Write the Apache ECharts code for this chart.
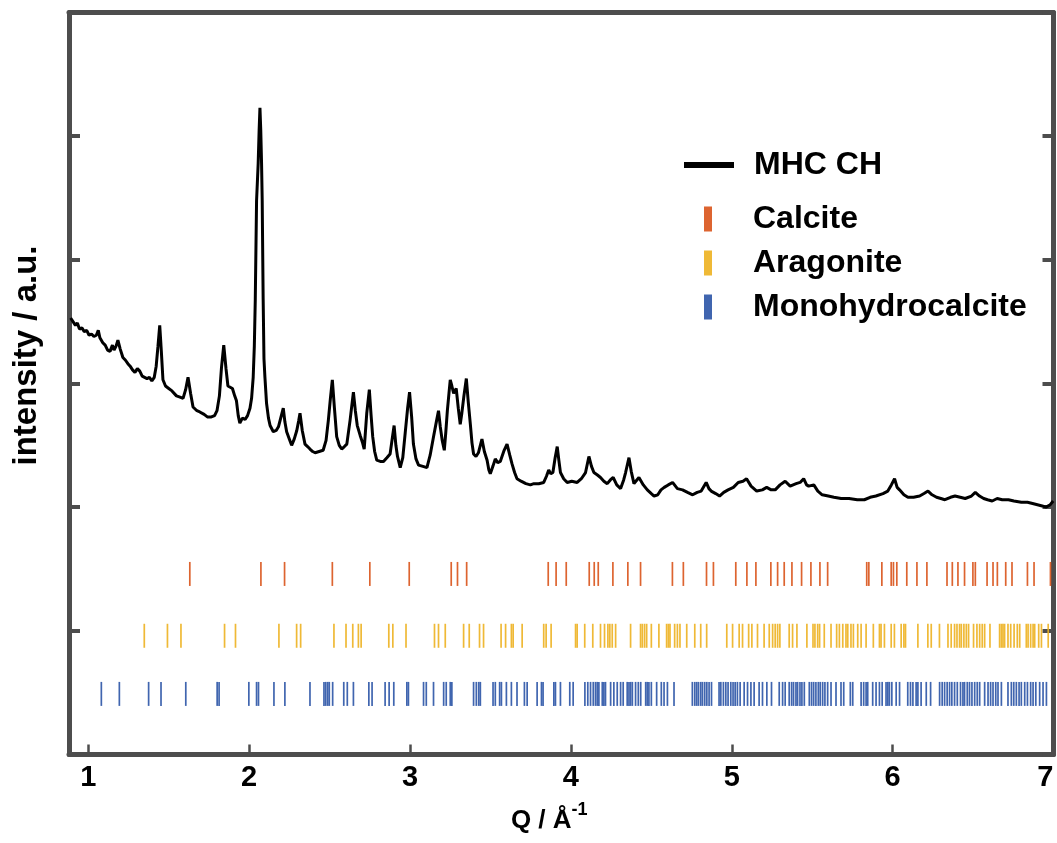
<!DOCTYPE html>
<html><head><meta charset="utf-8">
<script src="https://cdn.jsdelivr.net/npm/echarts@6/dist/echarts.min.js"></script>
<style>html,body{margin:0;padding:0;background:#fff}#c{width:1057px;height:843px}</style>
</head><body><div id="c"></div>
<script>
const xTicks = [1, 2, 3, 4, 5, 6, 7];
const yTicks = [0, 1, 2, 3, 4, 5, 6];

const mhcCurve = [
[0.89,3.53],[0.905,3.50],[0.92,3.47],[0.932,3.49],[0.945,3.44],[0.96,3.45],[0.975,3.42],[0.99,3.43],[1.005,3.39],[1.02,3.40],[1.035,3.38],[1.05,3.39],[1.062,3.43],[1.072,3.37],[1.09,3.33],[1.105,3.31],[1.12,3.27],[1.135,3.26],[1.15,3.31],[1.16,3.27],[1.172,3.30],[1.184,3.35],[1.198,3.28],[1.215,3.21],[1.23,3.19],[1.246,3.16],[1.26,3.14],[1.275,3.11],[1.29,3.09],[1.305,3.12],[1.32,3.10],[1.335,3.06],[1.35,3.05],[1.365,3.04],[1.38,3.05],[1.395,3.02],[1.41,3.05],[1.422,3.14],[1.433,3.30],[1.444,3.47],[1.454,3.26],[1.464,3.03],[1.48,2.98],[1.50,2.96],[1.52,2.94],[1.548,2.90],[1.57,2.89],[1.589,2.88],[1.605,2.95],[1.62,3.05],[1.636,2.92],[1.651,2.81],[1.675,2.78],[1.693,2.77],[1.72,2.75],[1.74,2.73],[1.765,2.73],[1.785,2.74],[1.80,2.78],[1.815,2.90],[1.828,3.13],[1.842,3.31],[1.856,3.12],[1.868,2.98],[1.882,2.97],[1.896,2.96],[1.91,2.90],[1.921,2.86],[1.932,2.74],[1.942,2.68],[1.958,2.72],[1.975,2.71],[1.99,2.74],[2.005,2.80],[2.015,2.88],[2.025,3.05],[2.032,3.30],[2.038,3.68],[2.046,4.48],[2.056,4.78],[2.062,5.05],[2.067,5.23],[2.072,5.05],[2.077,4.78],[2.081,4.48],[2.087,3.68],[2.092,3.20],[2.098,3.05],[2.108,2.84],[2.12,2.72],[2.13,2.66],[2.15,2.61],[2.168,2.62],[2.182,2.65],[2.198,2.73],[2.212,2.80],[2.222,2.69],[2.233,2.61],[2.25,2.55],[2.264,2.50],[2.28,2.55],[2.296,2.62],[2.308,2.70],[2.316,2.76],[2.33,2.62],[2.347,2.51],[2.363,2.49],[2.378,2.47],[2.395,2.45],[2.41,2.44],[2.435,2.45],[2.46,2.46],[2.478,2.54],[2.492,2.70],[2.505,2.88],[2.517,3.03],[2.53,2.80],[2.544,2.57],[2.56,2.50],[2.575,2.47],[2.592,2.49],[2.607,2.51],[2.627,2.70],[2.648,2.93],[2.66,2.78],[2.672,2.66],[2.69,2.58],[2.705,2.52],[2.715,2.47],[2.731,2.76],[2.747,2.95],[2.758,2.74],[2.768,2.57],[2.78,2.45],[2.793,2.38],[2.815,2.37],[2.835,2.37],[2.856,2.40],[2.876,2.43],[2.89,2.56],[2.901,2.66],[2.912,2.50],[2.922,2.41],[2.939,2.32],[2.955,2.40],[2.97,2.60],[2.985,2.80],[2.997,2.93],[3.01,2.73],[3.021,2.51],[3.037,2.39],[3.053,2.34],[3.08,2.33],[3.105,2.32],[3.125,2.42],[3.146,2.57],[3.165,2.70],[3.177,2.78],[3.188,2.65],[3.20,2.54],[3.213,2.46],[3.222,2.60],[3.232,2.78],[3.242,2.92],[3.25,3.03],[3.26,2.98],[3.271,2.92],[3.287,2.96],[3.30,2.80],[3.312,2.67],[3.322,2.76],[3.335,2.90],[3.35,3.04],[3.362,2.85],[3.375,2.67],[3.385,2.52],[3.395,2.43],[3.41,2.41],[3.425,2.44],[3.437,2.50],[3.447,2.55],[3.462,2.45],[3.479,2.38],[3.49,2.30],[3.499,2.27],[3.515,2.33],[3.53,2.39],[3.545,2.36],[3.561,2.37],[3.585,2.46],[3.603,2.51],[3.62,2.42],[3.634,2.35],[3.65,2.28],[3.665,2.23],[3.69,2.21],[3.72,2.19],[3.748,2.18],[3.77,2.19],[3.80,2.19],[3.831,2.20],[3.848,2.25],[3.862,2.30],[3.875,2.27],[3.888,2.28],[3.902,2.40],[3.915,2.49],[3.925,2.38],[3.935,2.28],[3.955,2.23],[3.977,2.20],[4.005,2.21],[4.039,2.20],[4.065,2.23],[4.091,2.28],[4.112,2.41],[4.128,2.33],[4.143,2.28],[4.165,2.26],[4.184,2.24],[4.205,2.21],[4.226,2.19],[4.245,2.22],[4.263,2.24],[4.285,2.18],[4.309,2.15],[4.328,2.22],[4.34,2.28],[4.361,2.40],[4.375,2.29],[4.392,2.19],[4.41,2.22],[4.423,2.24],[4.45,2.18],[4.475,2.14],[4.50,2.11],[4.517,2.09],[4.54,2.10],[4.56,2.14],[4.58,2.16],[4.605,2.18],[4.632,2.20],[4.662,2.15],[4.694,2.14],[4.725,2.12],[4.757,2.10],[4.785,2.12],[4.81,2.13],[4.841,2.20],[4.858,2.15],[4.872,2.13],[4.9,2.11],[4.924,2.09],[4.95,2.12],[4.977,2.14],[5.01,2.16],[5.04,2.20],[5.07,2.21],[5.092,2.23],[5.12,2.17],[5.155,2.13],[5.19,2.14],[5.217,2.16],[5.245,2.14],[5.27,2.14],[5.30,2.18],[5.332,2.21],[5.363,2.17],[5.40,2.19],[5.425,2.20],[5.447,2.23],[5.465,2.18],[5.478,2.17],[5.51,2.18],[5.535,2.13],[5.562,2.10],[5.60,2.09],[5.635,2.08],[5.68,2.07],[5.729,2.07],[5.78,2.06],[5.824,2.06],[5.86,2.08],[5.896,2.09],[5.94,2.11],[5.97,2.13],[5.992,2.18],[6.012,2.23],[6.028,2.16],[6.043,2.14],[6.07,2.10],[6.095,2.08],[6.13,2.08],[6.168,2.09],[6.195,2.11],[6.22,2.13],[6.245,2.10],[6.273,2.08],[6.30,2.07],[6.325,2.06],[6.36,2.08],[6.388,2.09],[6.42,2.08],[6.451,2.07],[6.49,2.09],[6.514,2.12],[6.54,2.09],[6.566,2.07],[6.59,2.06],[6.619,2.05],[6.65,2.07],[6.681,2.06],[6.72,2.06],[6.754,2.05],[6.80,2.04],[6.838,2.04],[6.87,2.03],[6.9,2.02],[6.93,2.01],[6.953,2.00],[6.98,2.02],[6.998,2.05]
];

const calcitePeaks = [1.631,2.073,2.220,2.517,2.750,2.995,3.256,3.295,3.352,3.859,3.908,3.971,4.114,4.145,4.170,4.261,4.354,4.433,4.631,4.699,4.843,4.886,5.025,5.094,5.150,5.243,5.285,5.326,5.374,5.434,5.492,5.548,5.596,5.839,5.852,5.933,5.991,6.005,6.026,6.088,6.151,6.213,6.338,6.371,6.406,6.447,6.499,6.514,6.587,6.624,6.651,6.703,6.742,6.838,6.879,6.981];

const aragonitePeaks = [1.348,1.492,1.576,1.847,1.915,2.185,2.295,2.320,2.527,2.602,2.644,2.679,2.696,2.868,2.893,2.975,3.152,3.177,3.219,3.333,3.368,3.432,3.457,3.566,3.594,3.630,3.641,3.697,3.831,3.846,3.877,4.029,4.039,4.086,4.136,4.184,4.209,4.230,4.242,4.257,4.278,4.371,4.433,4.444,4.458,4.471,4.500,4.547,4.595,4.606,4.616,4.645,4.662,4.678,4.720,4.770,4.807,4.844,4.969,5.005,5.046,5.067,5.105,5.125,5.160,5.201,5.233,5.254,5.270,5.285,5.299,5.357,5.378,5.405,5.467,5.505,5.517,5.534,5.546,5.575,5.617,5.652,5.669,5.690,5.710,5.721,5.741,5.756,5.783,5.804,5.835,5.880,5.918,5.928,5.949,5.991,6.011,6.053,6.070,6.080,6.157,6.219,6.240,6.291,6.344,6.364,6.385,6.400,6.416,6.427,6.443,6.458,6.472,6.503,6.524,6.541,6.557,6.572,6.605,6.665,6.676,6.686,6.696,6.717,6.734,6.755,6.775,6.790,6.831,6.842,6.858,6.873,6.883,6.908,6.925,6.967];

const monohydrocalcitePeaks = [1.081,1.193,1.375,1.452,1.606,1.801,1.813,1.998,2.046,2.058,2.154,2.222,2.378,2.465,2.476,2.488,2.498,2.519,2.588,2.610,2.648,2.744,2.764,2.845,2.870,2.899,2.980,2.990,3.084,3.101,3.146,3.209,3.225,3.250,3.260,3.395,3.412,3.427,3.437,3.516,3.530,3.557,3.568,3.599,3.630,3.665,3.711,3.728,3.790,3.817,3.827,3.894,3.904,3.935,3.993,4.014,4.087,4.105,4.122,4.139,4.153,4.164,4.174,4.195,4.205,4.215,4.247,4.267,4.288,4.309,4.325,4.350,4.361,4.371,4.382,4.402,4.419,4.434,4.465,4.475,4.485,4.500,4.533,4.562,4.579,4.600,4.641,4.755,4.770,4.782,4.793,4.807,4.818,4.832,4.845,4.859,4.874,4.921,4.932,4.948,4.963,4.977,4.994,5.008,5.021,5.035,5.052,5.077,5.098,5.119,5.139,5.170,5.191,5.218,5.247,5.295,5.316,5.332,5.357,5.372,5.384,5.399,5.409,5.424,5.436,5.451,5.482,5.496,5.509,5.523,5.538,5.550,5.565,5.579,5.596,5.617,5.648,5.679,5.696,5.737,5.752,5.804,5.820,5.835,5.845,5.876,5.897,5.918,5.935,5.959,5.970,5.980,5.995,6.022,6.043,6.094,6.111,6.126,6.146,6.157,6.177,6.209,6.236,6.292,6.308,6.323,6.339,6.354,6.368,6.385,6.402,6.422,6.437,6.447,6.464,6.478,6.493,6.510,6.526,6.541,6.572,6.593,6.609,6.624,6.641,6.655,6.676,6.717,6.738,6.753,6.769,6.786,6.800,6.821,6.838,6.858,6.873,6.890,6.914,6.935,6.956];

const seriesNames = ['MHC CH', 'Calcite', 'Aragonite', 'Monohydrocalcite'];

// layout / style constants
const FONT = "'Liberation Sans', Arial, Helvetica, sans-serif";
const FRAME = '#4d4d4d';
const COLORS = { Calcite: '#D95319', Aragonite: '#EDB120', Monohydrocalcite: '#2B54A6' };
const ROW = { Calcite: 1.46, Aragonite: 0.96, Monohydrocalcite: 0.49 };

const chart = echarts.init(document.getElementById('c'), null, { renderer: 'canvas' });

function stickSeries(name, peaks) {
  return {
    name: name, type: 'scatter', xAxisIndex: 0, yAxisIndex: 0,
    symbol: 'rect', symbolSize: [1.7, 24], silent: true,
    itemStyle: { color: COLORS[name], opacity: 0.9 },
    emphasis: { disabled: true },
    data: peaks.map(q => [q, ROW[name]])
  };
}

const axisLine = { show: true, onZero: false, lineStyle: { color: FRAME, width: 5 } };

chart.setOption({
  animation: false,
  backgroundColor: '#fff',
  grid: { left: 69, right: 3.5, top: 12.5, bottom: 88.5, containLabel: false, outerBoundsMode: 'none' },
  xAxis: [{
    type: 'value', min: 0.88, max: 7, position: 'bottom',
    axisLine: axisLine,
    axisTick: { show: true, inside: true, length: 10, customValues: xTicks, lineStyle: { color: FRAME, width: 2.5 } },
    axisLabel: { show: true, customValues: xTicks, margin: 9, color: '#000', fontSize: 29, fontWeight: 'bold', fontFamily: FONT, alignMaxLabel: 'right' },
    splitLine: { show: false },
    name: 'Q / Å{sup|-1}', nameLocation: 'middle', nameGap: 47,
    nameTextStyle: {
      color: '#000', fontSize: 26, fontWeight: 'bold', fontFamily: FONT, padding: [0, 24, 0, 0],
      rich: { sup: { fontSize: 18, fontWeight: 'bold', fontFamily: FONT, color: '#000', padding: [0, 0, 20, 0] } }
    }
  }, {
    type: 'value', min: 0.88, max: 7, position: 'top',
    axisLine: axisLine, axisTick: { show: false }, axisLabel: { show: false }, splitLine: { show: false }
  }],
  yAxis: [{
    type: 'value', min: 0, max: 6, interval: 1, position: 'left',
    axisLine: axisLine,
    axisTick: { show: true, inside: true, length: 11, customValues: yTicks, lineStyle: { color: FRAME, width: 4 } },
    axisLabel: { show: false }, splitLine: { show: false },
    name: 'intensity / a.u.', nameLocation: 'middle', nameGap: 26,
    nameTextStyle: { color: '#000', fontSize: 33, fontWeight: 'bold', fontFamily: FONT, padding: [0, 0, 0, 56] }
  }, {
    type: 'value', min: 0, max: 6, interval: 1, position: 'right',
    axisLine: axisLine,
    axisTick: { show: true, inside: true, length: 11, customValues: yTicks, lineStyle: { color: FRAME, width: 4 } },
    axisLabel: { show: false }, splitLine: { show: false }
  }],
  legend: [{
    data: [{ name: seriesNames[0], icon: 'rect' }],
    left: 679, top: 144, itemWidth: 50, itemHeight: 6, selectedMode: false,
    textStyle: { color: '#000', fontSize: 32, fontWeight: 'bold', fontFamily: FONT, padding: [0, 0, 0, 15] }
  }, {
    data: seriesNames.slice(1).map(n => ({ name: n, icon: 'rect' })),
    orient: 'vertical', left: 699, top: 198, itemWidth: 8, itemHeight: 25, itemGap: 12, selectedMode: false,
    textStyle: { color: '#000', fontSize: 32, fontWeight: 'bold', fontFamily: FONT, padding: [0, 0, 0, 36] }
  }],
  series: [
    {
      name: seriesNames[0], type: 'line', xAxisIndex: 0, yAxisIndex: 0,
      data: mhcCurve, showSymbol: false, symbol: 'none', silent: true,
      color: '#000', lineStyle: { color: '#000', width: 3 }, itemStyle: { color: '#000' },
      emphasis: { disabled: true }, z: 5
    },
    stickSeries('Calcite', calcitePeaks),
    stickSeries('Aragonite', aragonitePeaks),
    stickSeries('Monohydrocalcite', monohydrocalcitePeaks)
  ]
});
</script>
</body></html>
